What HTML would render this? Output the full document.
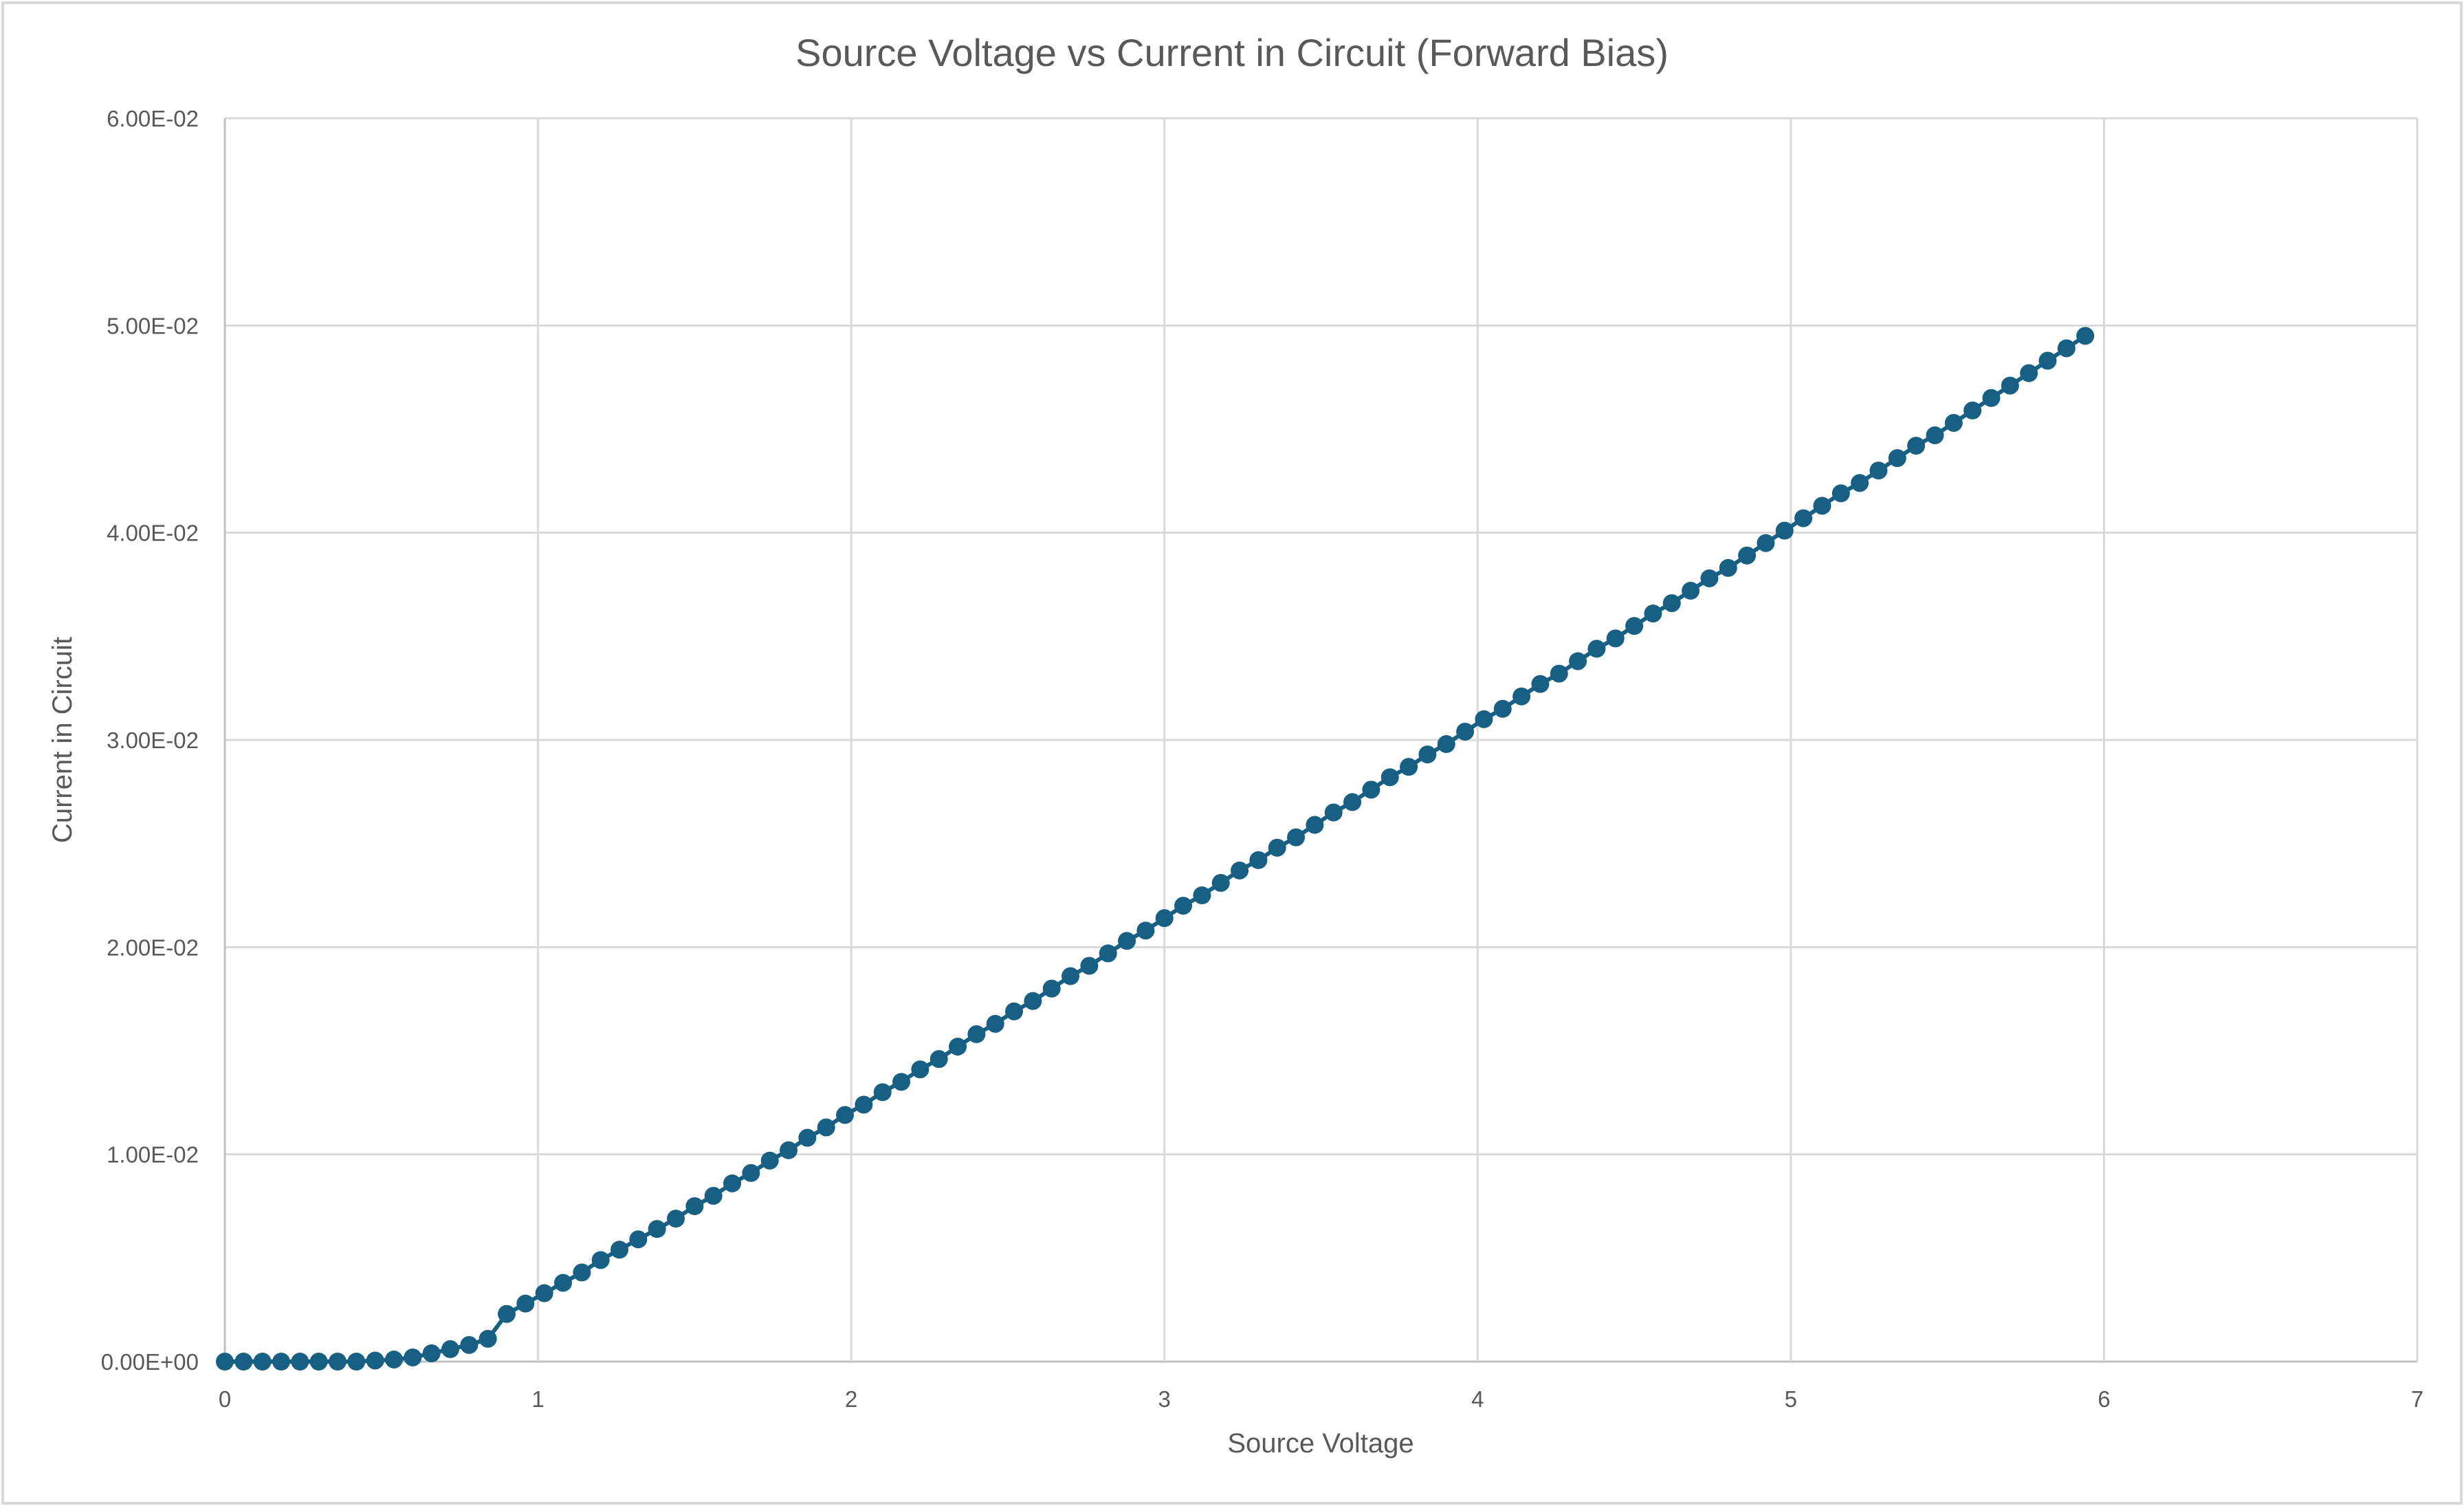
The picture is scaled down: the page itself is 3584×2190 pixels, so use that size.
<!DOCTYPE html>
<html><head><meta charset="utf-8"><style>
html,body{margin:0;padding:0;background:#fff}
svg{display:block;font-family:"Liberation Sans",sans-serif}
</style></head><body>
<svg id="chart" width="3584" height="2190" viewBox="0 0 3584 2190" xmlns="http://www.w3.org/2000/svg">
<rect x="4" y="4" width="3576" height="2182" fill="#fff" stroke="#d9d9d9" stroke-width="4"/>
<text x="1792" y="96" text-anchor="middle" font-size="56" fill="#595959">Source Voltage vs Current in Circuit (Forward Bias)</text>
<text x="1921" y="2112" text-anchor="middle" font-size="40" fill="#595959">Source Voltage</text>
<text transform="translate(104,1076) rotate(-90)" text-anchor="middle" font-size="40" fill="#595959">Current in Circuit</text>
<g id="grid"></g>
<g id="ticks"></g>
<g id="series"></g>
</svg>
<script>
const xTicks = [0,1,2,3,4,5,6,7];
const yTicks = [0,0.01,0.02,0.03,0.04,0.05,0.06];
const yTickLabels = ["0.00E+00","1.00E-02","2.00E-02","3.00E-02","4.00E-02","5.00E-02","6.00E-02"];
const voltage = [0,0.06,0.12,0.18,0.24,0.30,0.36,0.42,0.48,0.54,0.60,0.66,0.72,0.78,0.84,0.90,0.96,1.02,1.08,1.14,1.20,1.26,1.32,1.38,1.44,1.50,1.56,1.62,1.68,1.74,1.80,1.86,1.92,1.98,2.04,2.10,2.16,2.22,2.28,2.34,2.40,2.46,2.52,2.58,2.64,2.70,2.76,2.82,2.88,2.94,3.00,3.06,3.12,3.18,3.24,3.30,3.36,3.42,3.48,3.54,3.60,3.66,3.72,3.78,3.84,3.90,3.96,4.02,4.08,4.14,4.20,4.26,4.32,4.38,4.44,4.50,4.56,4.62,4.68,4.74,4.80,4.86,4.92,4.98,5.04,5.10,5.16,5.22,5.28,5.34,5.40,5.46,5.52,5.58,5.64,5.70,5.76,5.82,5.88,5.94];
const current = [0,0,0,0,0,0,0,0,0.00005,0.0001,0.0002,0.0004,0.0006,0.0008,0.0011,0.0023,0.0028,0.0033,0.0038,0.0043,0.0049,0.0054,0.0059,0.0064,0.0069,0.0075,0.0080,0.0086,0.0091,0.0097,0.0102,0.0108,0.0113,0.0119,0.0124,0.0130,0.0135,0.0141,0.0146,0.0152,0.0158,0.0163,0.0169,0.0174,0.0180,0.0186,0.0191,0.0197,0.0203,0.0208,0.0214,0.0220,0.0225,0.0231,0.0237,0.0242,0.0248,0.0253,0.0259,0.0265,0.0270,0.0276,0.0282,0.0287,0.0293,0.0298,0.0304,0.0310,0.0315,0.0321,0.0327,0.0332,0.0338,0.0344,0.0349,0.0355,0.0361,0.0366,0.0372,0.0378,0.0383,0.0389,0.0395,0.0401,0.0407,0.0413,0.0419,0.0424,0.0430,0.0436,0.0442,0.0447,0.0453,0.0459,0.0465,0.0471,0.0477,0.0483,0.0489,0.0495];

const L=327,R=3516,T=172,B=1980;
const xMin=0,xMax=7,yMin=0,yMax=0.06;
function sx(v){return L+(v-xMin)/(xMax-xMin)*(R-L);}
function sy(v){return B-(v-yMin)/(yMax-yMin)*(B-T);}
const NS="http://www.w3.org/2000/svg";
function mk(tag,attrs,parent){const e=document.createElementNS(NS,tag);for(const k in attrs)e.setAttribute(k,attrs[k]);parent.appendChild(e);return e;}
const grid=document.getElementById('grid'),ticks=document.getElementById('ticks'),series=document.getElementById('series');
yTicks.forEach((v,i)=>{
  const ln=mk('line',{x1:L,x2:R,y1:sy(v),y2:sy(v),stroke:i===0?'#bfbfbf':'#d9d9d9','stroke-width':3},grid);
  
  
  const t=mk('text',{x:L-38,y:sy(v)+12,'text-anchor':'end','font-size':33,fill:'#595959'},ticks);
  t.textContent=yTickLabels[i];
  
  
});
xTicks.forEach((v,i)=>{
  const ln=mk('line',{x1:sx(v),x2:sx(v),y1:T,y2:B,stroke:i===0?'#bfbfbf':'#d9d9d9','stroke-width':3},grid);
  
  
  const t=mk('text',{x:sx(v),y:B+66,'text-anchor':'middle','font-size':33,fill:'#595959'},ticks);
  t.textContent=String(v);
  
  
});
const pts=voltage.map((v,i)=>sx(v).toFixed(1)+','+sy(current[i]).toFixed(1)).join(' ');
const pl=mk('polyline',{points:pts,fill:'none',stroke:'#175f83','stroke-width':6,'stroke-linejoin':'round'},series);


voltage.forEach((v,i)=>{
  const c=mk('circle',{cx:sx(v),cy:sy(current[i]),r:13,fill:'#175f83'},series);
  
  
});
</script>
</body></html>
